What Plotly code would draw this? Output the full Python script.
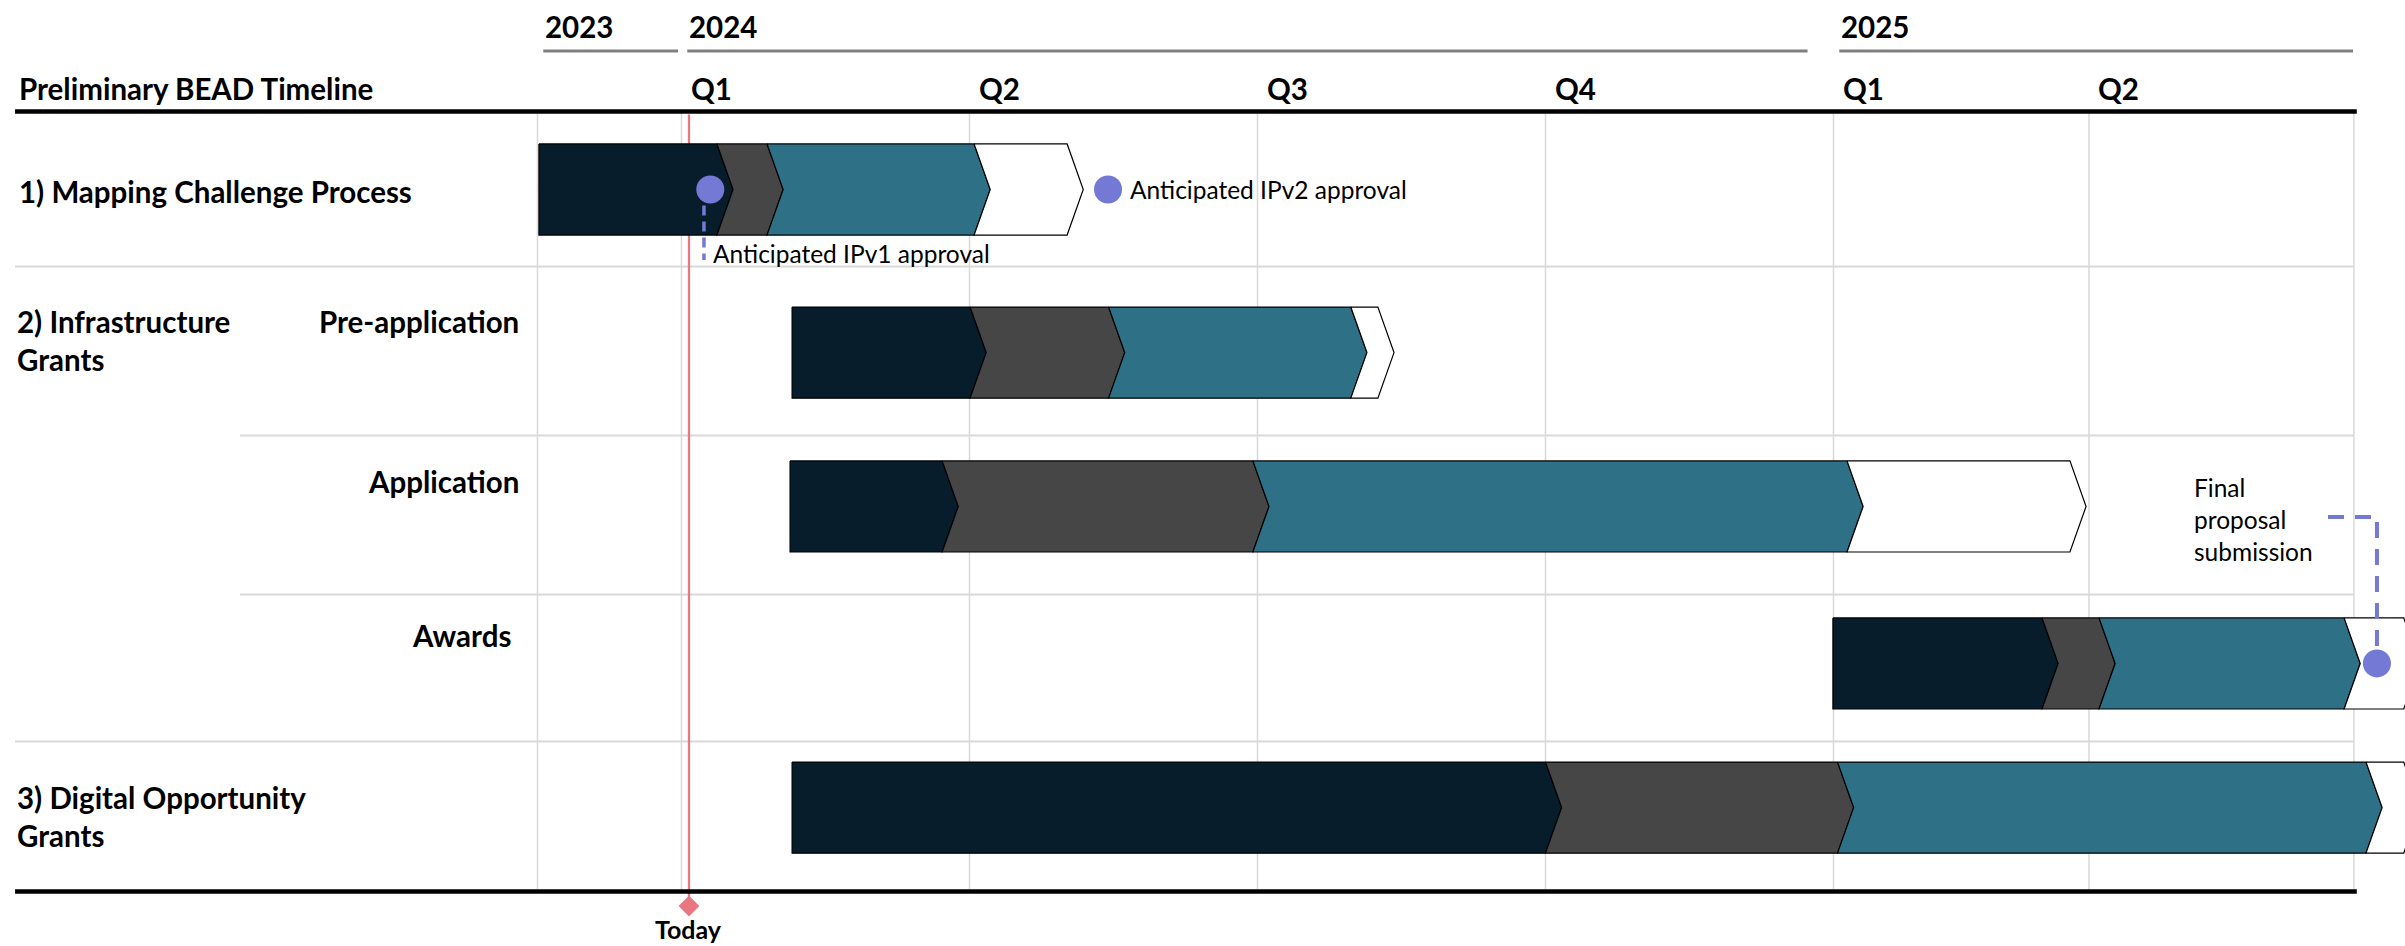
import numpy as np
import plotly.graph_objects as go

# ---------------- data ----------------
ROWS = ["1) Mapping Challenge Process", "Pre-application", "Application", "Awards",
        "3) Digital Opportunity Grants"]
ROW_GROUP = [1, 2, 2, 2, 3]

# phase boundaries, in quarters measured from the start of 2024 Q1
phase1_start = [-0.495, 0.384, 0.377, 3.998, 0.384]
phase2_start = [0.123, 1.002, 0.905, 4.724, 3.000]
phase3_start = [0.297, 1.483, 1.984, 4.922, 4.014]
phase4_start = [1.016, 2.324, 4.047, 5.773, 5.849]
phase4_end = [1.339, 2.418, 4.821, 5.980, 5.980]

QUARTER_TICKS = [-0.5, 0, 1, 2, 3, 4, 4.887, 5.807]
QUARTER_LABELS = ["", "Q1", "Q2", "Q3", "Q4", "Q1", "Q2", ""]
YEAR_LABELS = ["2023", "2024", "2025"]
YEAR_BOUNDS = [-0.5, 0, 4, 5.807]

MILESTONES = ["Anticipated IPv1 approval", "Anticipated IPv2 approval", "Final proposal submission"]
MILESTONE_X = [0.100, 1.481, 5.887]
MILESTONE_ROW = [0, 0, 3]

TODAY_X = 0.026

# ---------------- style / layout ----------------
FONT = "Lato, 'Open Sans', sans-serif"
NAVY, GREY, TEAL, WHITE = "#071D2C", "#464646", "#2E7186", "#FFFFFF"
PHASE_COLORS = [NAVY, GREY, TEAL, WHITE]
MS_COLOR = "#7479D5"
TODAY_COLOR = "#E97780"
GRID = "#D9D9D9"
BAR_HALF = 0.292
TIP = 0.056
ROW_HEIGHTS = [0.994, 1.083, 1.019, 0.942, 0.962]     # relative row heights
BAR_DY = [0.003, 0.010, -0.055, -0.029, -0.057]       # bar offset inside its row
YEAR_GAP_R = [0.012, 0.09, 0.003]
BOLD = 29.5
REG = 24.5
W, H = 2405, 946
X_RANGE = [-2.3663, 5.9844]
Y_RANGE = [4.849, -1.2147]
X_LEFT = -2.314
X_SUB = -1.533
X_RIGHT = QUARTER_TICKS[-1]

edges = -0.5 + np.concatenate([[0], np.cumsum(ROW_HEIGHTS)])
row_center = (edges[:-1] + edges[1:]) / 2 + np.array(BAR_DY)

fig = go.Figure()
shapes = []
ann = []

# vertical grid lines
for t in QUARTER_TICKS:
    shapes.append(dict(type="line", xref="x", yref="y", x0=t, x1=t, y0=edges[0], y1=edges[-1],
                       line=dict(color=GRID, width=1.5), layer="below"))
# row separators
for i in range(len(ROWS) - 1):
    x0 = X_SUB if ROW_GROUP[i] == ROW_GROUP[i + 1] else X_LEFT
    shapes.append(dict(type="line", xref="x", yref="y", x0=x0, x1=X_RIGHT, y0=edges[i + 1],
                       y1=edges[i + 1], line=dict(color=GRID, width=2), layer="below"))
# today line
shapes.append(dict(type="line", xref="x", yref="y", x0=TODAY_X, x1=TODAY_X, y0=-0.48, y1=4.593,
                   line=dict(color=TODAY_COLOR, width=2.3), layer="below"))
# thick header / footer lines
for yv in (edges[0], edges[-1]):
    shapes.append(dict(type="line", xref="x", yref="y", x0=X_LEFT, x1=X_RIGHT + 0.01, y0=yv, y1=yv,
                       line=dict(color="#000000", width=4.5), layer="above"))
# year lines and labels
for k, yl in enumerate(YEAR_LABELS):
    a, b = YEAR_BOUNDS[k], YEAR_BOUNDS[k + 1]
    shapes.append(dict(type="line", xref="x", yref="y", x0=a + 0.02, x1=b - YEAR_GAP_R[k],
                       y0=-0.888, y1=-0.888, line=dict(color="#808080", width=3)))
    ann.append(dict(x=a + 0.02, y=-1.042, text=yl, xanchor="left", yanchor="middle",
                    font=dict(size=BOLD, weight="bold", color="#000000")))
# quarter labels
for t, q in zip(QUARTER_TICKS, QUARTER_LABELS):
    if q:
        ann.append(dict(x=t + 0.026, y=-0.65, text=q, xanchor="left", yanchor="middle",
                        font=dict(size=BOLD, weight="bold", color="#000000")))
ann.append(dict(x=-2.307, y=-0.65, text="Preliminary BEAD Timeline", xanchor="left", yanchor="middle",
                font=dict(size=BOLD, weight="bold", color="#000000")))

# row labels
ann.append(dict(x=-2.307, y=0.01, text=ROWS[0], xanchor="left", yanchor="middle",
                font=dict(size=BOLD, weight="bold")))
ann.append(dict(x=-2.314, y=0.965, text="2) Infrastructure<br>Grants", xanchor="left", yanchor="middle",
                align="left", font=dict(size=BOLD, weight="bold")))
for i, yv in zip([1, 2, 3], [0.843, 1.869, 2.856]):
    xr = -0.585 if ROWS[i] == "Awards" else -0.558
    ann.append(dict(x=xr, y=yv, text=ROWS[i], xanchor="right", yanchor="middle",
                    font=dict(size=BOLD, weight="bold")))
ann.append(dict(x=-2.314, y=4.016, text="3) Digital Opportunity<br>Grants", xanchor="left",
                yanchor="middle", align="left", font=dict(size=BOLD, weight="bold")))


# chevron bars
def chevron(x0, x1, yc, notch):
    h, d = BAR_HALF, TIP
    xs = [x0, x1, x1 + d, x1, x0]
    ys = [yc - h, yc - h, yc, yc + h, yc + h]
    if notch:
        xs.append(x0 + d)
        ys.append(yc)
    xs.append(x0)
    ys.append(yc - h)
    return xs, ys


bounds = list(zip(phase1_start, phase2_start, phase3_start, phase4_start, phase4_end))
for p, col in enumerate(PHASE_COLORS):
    X, Y = [], []
    for r, b in enumerate(bounds):
        xs, ys = chevron(b[p], b[p + 1], row_center[r], p > 0)
        X += xs + [None]
        Y += ys + [None]
    fig.add_trace(go.Scatter(x=X, y=Y, mode="lines", fill="toself", fillcolor=col,
                             line=dict(color="#000000", width=1.2), hoverinfo="skip", showlegend=False))

# milestone connectors
x1, x2, x3 = MILESTONE_X
my = [row_center[r] for r in MILESTONE_ROW]
fig.add_trace(go.Scatter(x=[x1 - 0.022, x1 - 0.022], y=[my[0], 0.452], mode="lines",
                         line=dict(color=MS_COLOR, width=3.5, dash="10px,6px"), showlegend=False,
                         hoverinfo="skip"))
fig.add_trace(go.Scatter(x=[5.717, x3, x3], y=[2.099, 2.099, my[2]], mode="lines",
                         line=dict(color=MS_COLOR, width=4, dash="16px,11px"), showlegend=False,
                         hoverinfo="skip"))
fig.add_trace(go.Scatter(x=MILESTONE_X, y=my, mode="markers",
                         marker=dict(size=28, color=MS_COLOR, line=dict(width=0)),
                         text=MILESTONES, hoverinfo="text", showlegend=False))
ann.append(dict(x=x1 + 0.002, y=0.407, text=MILESTONES[0], xanchor="left", yanchor="middle",
                font=dict(size=REG)))
ann.append(dict(x=x2 + 0.07, y=my[1], text=MILESTONES[1], xanchor="left", yanchor="middle",
                font=dict(size=REG)))
ann.append(dict(x=5.245, y=2.112, text="Final<br>proposal<br>submission", xanchor="left",
                yanchor="middle", align="left", font=dict(size=REG)))

# today marker
fig.add_trace(go.Scatter(x=[TODAY_X], y=[4.593], mode="markers", cliponaxis=False,
                         marker=dict(symbol="diamond", size=16, color=TODAY_COLOR),
                         hoverinfo="skip", showlegend=False))
ann.append(dict(x=TODAY_X, y=4.738, text="Today", xanchor="center", yanchor="middle",
                font=dict(size=25, weight="bold")))

for a in ann:
    a.update(xref="x", yref="y", showarrow=False)

fig.update_layout(
    width=W, height=H, margin=dict(l=0, r=0, t=0, b=0),
    paper_bgcolor="#FFFFFF", plot_bgcolor="#FFFFFF",
    font=dict(family=FONT, color="#000000"),
    xaxis=dict(range=X_RANGE, visible=False, fixedrange=True),
    yaxis=dict(range=Y_RANGE, visible=False, fixedrange=True),
    shapes=shapes, annotations=ann, showlegend=False,
)
fig.write_html("out.html", config={"displayModeBar": False},
               post_script="document.body.style.margin='0';")
